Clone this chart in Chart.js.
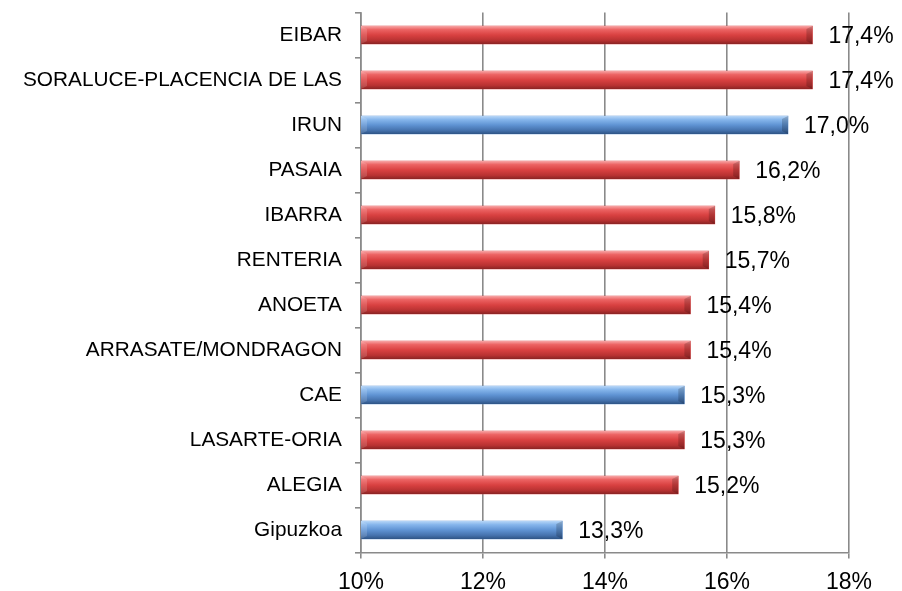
<!DOCTYPE html>
<html>
<head>
<meta charset="utf-8">
<script src="https://cdn.jsdelivr.net/npm/chart.js@4.4.1/dist/chart.umd.min.js"></script>
<style>
  html, body { margin: 0; padding: 0; background: #fff; }
  #wrap { width: 902px; height: 591px; }
</style>
</head>
<body>
<div id="wrap"><canvas id="chart" width="902" height="591"></canvas></div>
<script>
const categories = ["EIBAR", "SORALUCE-PLACENCIA DE LAS", "IRUN", "PASAIA", "IBARRA", "RENTERIA",
  "ANOETA", "ARRASATE/MONDRAGON", "CAE", "LASARTE-ORIA", "ALEGIA", "Gipuzkoa"];
const values = [17.4, 17.4, 17.0, 16.2, 15.8, 15.7, 15.4, 15.4, 15.3, 15.3, 15.2, 13.3];
// blue = reference areas, red = municipalities
const isReference = [false, false, true, false, false, false, false, false, true, false, false, true];

const redStops = ["#f7a5a5", "#ec6363", "#d94141", "#b83232", "#8a2424"];
const blueStops = ["#b7d6f7", "#86b6ec", "#5f93d3", "#4572ad", "#2e5485"];

const FONT = "'Liberation Sans', Arial, sans-serif";

// paints the glossy look on top of each bar
const gloss = {
  id: "gloss",
  afterDatasetsDraw(chart) {
    const ctx = chart.ctx;
    const meta = chart.getDatasetMeta(0);
    const left = chart.chartArea.left;
    meta.data.forEach((bar, i) => {
      const top = bar.y - bar.height / 2;
      const bottom = bar.y + bar.height / 2;
      const base = Math.max(bar.base, left);
      const stops = isReference[i] ? blueStops : redStops;
      const g = ctx.createLinearGradient(0, top, 0, bottom);
      g.addColorStop(0, stops[0]);
      g.addColorStop(0.2, stops[1]);
      g.addColorStop(0.5, stops[2]);
      g.addColorStop(0.8, stops[3]);
      g.addColorStop(1, stops[4]);
      ctx.save();
      ctx.fillStyle = g;
      ctx.fillRect(base, top, bar.x - base, bottom - top);
      // end bevel
      ctx.fillStyle = "rgba(0,0,0,0.18)";
      ctx.beginPath();
      ctx.moveTo(bar.x - 6, top + 3);
      ctx.lineTo(bar.x, top);
      ctx.lineTo(bar.x, bottom);
      ctx.lineTo(bar.x - 6, bottom - 3);
      ctx.closePath();
      ctx.fill();
      ctx.fillStyle = "rgba(255,255,255,0.15)";
      ctx.beginPath();
      ctx.moveTo(base, top);
      ctx.lineTo(base + 6, top + 3);
      ctx.lineTo(base + 6, bottom - 3);
      ctx.lineTo(base, bottom);
      ctx.closePath();
      ctx.fill();
      ctx.restore();
    });
  },
  afterDraw(chart) {
    const ctx = chart.ctx;
    const meta = chart.getDatasetMeta(0);
    ctx.save();
    ctx.font = "23px " + FONT;
    ctx.fillStyle = "#000";
    ctx.textBaseline = "middle";
    meta.data.forEach((bar, i) => {
      const txt = values[i].toFixed(1).replace(".", ",") + "%";
      ctx.fillText(txt, bar.x + 16, bar.y + 1.5);
    });
    ctx.restore();
  }
};

new Chart(document.getElementById("chart"), {
  type: "bar",
  data: {
    labels: categories,
    datasets: [{
      data: values,
      backgroundColor: isReference.map(b => b ? "#5f93d3" : "#d94141"),
      barThickness: 18,
      borderWidth: 0
    }]
  },
  plugins: [gloss],
  options: {
    indexAxis: "y",
    responsive: false,
    animation: false,
    layout: { padding: { top: 12.5, right: 53, left: 10, bottom: 0 } },
    plugins: { legend: { display: false }, tooltip: { enabled: false } },
    scales: {
      x: {
        min: 10,
        max: 18,
        ticks: {
          stepSize: 2,
          color: "#000",
          padding: 13,
          font: { family: FONT, size: 23, lineHeight: 1 },
          callback: v => v + "%"
        },
        grid: { color: "#8a8a8a", lineWidth: 1.6, tickLength: 6, tickColor: "#8a8a8a" },
        border: { color: "#8a8a8a", width: 1.6 },
        afterFit: s => { s.height = 38.5; }
      },
      y: {
        ticks: {
          color: "#000",
          padding: 13,
          autoSkip: false,
          font: { family: FONT, size: 20.8 }
        },
        grid: { drawOnChartArea: false, offset: true, tickLength: 6, color: "#8a8a8a", lineWidth: 1.6 },
        border: { color: "#8a8a8a", width: 1.6 },
        afterFit: s => { s.paddingTop = 0; s.paddingBottom = 0; }
      }
    }
  }
});
</script>
</body>
</html>
